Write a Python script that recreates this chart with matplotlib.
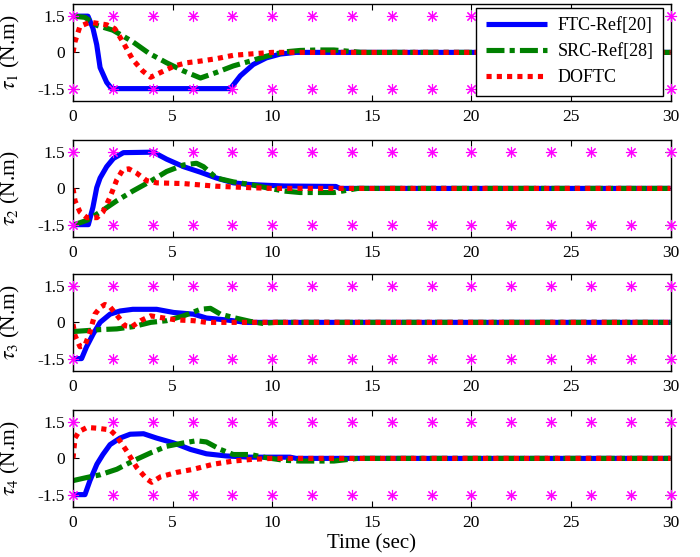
import matplotlib
matplotlib.use("Agg")
import matplotlib.pyplot as plt

plt.rcParams["font.family"] = ["Liberation Serif", "DejaVu Serif"]
plt.rcParams["mathtext.fontset"] = "stix"

# torque limits drawn as magenta asterisks
limit_t = [0, 2, 4, 6, 8, 10, 12, 14, 16, 18, 20, 22, 24, 26, 28, 30]
limit_hi = 1.5
limit_lo = -1.5

# tau1
ftc_t1 = [0, 0.75, 1.0, 1.19, 1.36, 1.69, 1.94, 7.9, 8.4, 9.05, 9.7, 10.4, 11.2, 30]
ftc_u1 = [1.5, 1.5, 1.0, 0.32, -0.63, -1.24, -1.5, -1.5, -0.97, -0.5, -0.23, -0.07, 0, 0]
src_t1 = [0, 0.6, 1.19, 2.0, 3.0, 3.8, 4.7, 5.55, 6.4, 7.2, 8.05, 8.9, 9.7, 10.6, 11.4, 12.3, 13.1, 14.5, 30]
src_u1 = [1.5, 1.45, 1.12, 0.92, 0.44, -0.03, -0.43, -0.77, -1.06, -0.83, -0.56, -0.36, -0.16, 0.02, 0.08, 0.1, 0.1, 0, 0]
dof_t1 = [0, 0.1, 0.35, 0.85, 1.7, 2.1, 2.5, 3.0, 3.5, 3.9, 4.4, 5.1, 5.7, 6.4, 7.2, 8.05, 9.0, 10.0, 30]
dof_u1 = [0, 0.44, 1.08, 1.25, 1.14, 0.98, 0.44, -0.3, -0.77, -1.03, -0.83, -0.56, -0.43, -0.36, -0.26, -0.12, -0.06, 0, 0]

# tau2
ftc_t2 = [0, 0.77, 1.0, 1.19, 1.36, 1.69, 2.03, 2.53, 4.04, 4.7, 5.55, 6.4, 7.2, 8.05, 8.9, 9.7, 10.6, 13.2, 13.4, 30]
ftc_u2 = [-1.5, -1.5, -0.78, 0.03, 0.43, 0.9, 1.24, 1.48, 1.5, 1.21, 0.9, 0.67, 0.43, 0.23, 0.16, 0.13, 0.1, 0.08, 0, 0]
src_t2 = [0, 0.7, 1.36, 2.2, 3.0, 3.9, 4.7, 5.55, 6.2, 6.55, 7.2, 8.05, 8.9, 9.7, 10.6, 11.4, 13.1, 14.3, 30]
src_u2 = [-1.52, -1.32, -0.98, -0.51, -0.11, 0.3, 0.7, 0.97, 1.04, 0.9, 0.43, 0.27, 0.16, 0.03, -0.11, -0.17, -0.17, 0, 0]
dof_t2 = [0, 0.1, 0.35, 0.7, 1.2, 1.5, 1.85, 2.2, 2.5, 2.8, 3.2, 3.7, 4.2, 5.55, 7.2, 8.9, 10.0, 30]
dof_u2 = [0, -0.51, -0.98, -1.21, -1.21, -0.98, -0.38, 0.36, 0.77, 0.81, 0.63, 0.32, 0.23, 0.2, 0.09, 0.03, 0, 0]

# tau3
ftc_t3 = [0, 0.43, 0.68, 1.02, 1.36, 1.86, 2.36, 3.0, 4.2, 5.05, 6.05, 6.7, 7.7, 8.7, 30]
ftc_u3 = [-1.5, -1.5, -1.01, -0.47, 0, 0.34, 0.47, 0.54, 0.54, 0.41, 0.34, 0.18, 0.1, 0, 0]
src_t3 = [0, 0.7, 1.36, 2.2, 3.0, 3.9, 4.7, 5.55, 6.4, 6.9, 7.4, 8.05, 8.9, 9.5, 10.2, 30]
src_u3 = [-0.38, -0.34, -0.3, -0.27, -0.18, 0, 0.07, 0.27, 0.54, 0.58, 0.34, 0.2, 0.04, -0.04, 0, 0]
dof_t3 = [0, 0.1, 0.35, 0.6, 0.85, 1.1, 1.36, 1.6, 1.86, 2.3, 2.6, 2.95, 3.4, 3.9, 4.4, 5.2, 6.05, 6.7, 30]
dof_u3 = [-0.07, -0.54, -1.01, -0.95, -0.4, 0.34, 0.61, 0.74, 0.64, 0.2, -0.14, -0.18, 0.07, 0.27, 0.2, 0.1, 0.07, 0, 0]

# tau4
ftc_t4 = [0, 0.6, 0.85, 1.2, 1.5, 1.86, 2.36, 2.87, 3.54, 4.2, 5.05, 5.9, 6.7, 7.7, 8.9, 10.9, 11.2, 30]
ftc_u4 = [-1.5, -1.5, -0.92, -0.24, 0.16, 0.57, 0.84, 1.0, 1.02, 0.84, 0.64, 0.37, 0.19, 0.1, 0.05, 0.05, 0, 0]
src_t4 = [0, 0.7, 1.36, 2.2, 3.0, 3.9, 4.7, 5.55, 6.2, 6.7, 7.4, 8.05, 8.9, 9.7, 10.6, 11.4, 13.1, 14.3, 30]
src_u4 = [-0.92, -0.79, -0.68, -0.45, -0.11, 0.23, 0.5, 0.64, 0.73, 0.68, 0.37, 0.16, 0.16, 0.03, -0.08, -0.11, -0.11, 0, 0]
dof_t4 = [0, 0.1, 0.3, 0.7, 1.2, 1.86, 2.2, 2.7, 3.2, 3.7, 3.95, 4.4, 5.2, 6.05, 7.05, 8.05, 9.0, 10.0, 30]
dof_u4 = [0, 0.84, 1.11, 1.28, 1.25, 1.18, 0.91, 0.3, -0.38, -0.85, -0.99, -0.76, -0.58, -0.45, -0.24, -0.11, -0.04, 0, 0]

ftc = [(ftc_t1, ftc_u1), (ftc_t2, ftc_u2), (ftc_t3, ftc_u3), (ftc_t4, ftc_u4)]
src = [(src_t1, src_u1), (src_t2, src_u2), (src_t3, src_u3), (src_t4, src_u4)]
dof = [(dof_t1, dof_u1), (dof_t2, dof_u2), (dof_t3, dof_u3), (dof_t4, dof_u4)]

fig = plt.figure(figsize=(7, 5.57), dpi=100)
bottoms = [0.8192, 0.575, 0.3345, 0.0903]
asterisk = (8, 2, 0)

for i in range(4):
    ax = fig.add_axes([0.1043, bottoms[i], 0.8536, 0.1735])
    ax.plot(ftc[i][0], ftc[i][1], color="#0000ff", lw=3.7, solid_capstyle="butt",
            label="FTC-Ref[20]")
    ax.plot(src[i][0], src[i][1], color="#008000", lw=3.7, dash_capstyle="butt",
            linestyle=(0, (3.5, 1.0, 1.0, 1.0)), label="SRC-Ref[28]")
    ax.plot(dof[i][0], dof[i][1], color="#ff0000", lw=3.7, dash_capstyle="butt",
            linestyle=(0, (1.0, 1.0)), label="DOFTC")
    ax.plot(limit_t, [limit_hi] * len(limit_t), linestyle="none", marker=asterisk,
            ms=8, mew=0.8, color="#ff00ff", clip_on=False, zorder=5)
    ax.plot(limit_t, [limit_lo] * len(limit_t), linestyle="none", marker=asterisk,
            ms=8, mew=0.8, color="#ff00ff", clip_on=False, zorder=5)

    ax.set_xlim(0, 30)
    ax.set_ylim(-2, 2)
    ax.set_xticks([0, 5, 10, 15, 20, 25, 30])
    ax.set_yticks([-1.5, 0, 1.5])
    ax.set_yticklabels(["-1.5", "0", "1.5"])
    ax.tick_params(direction="in", top=True, right=True, labelsize=12.5, length=4,
                   width=0.8, pad=6)
    for s in ax.spines.values():
        s.set_linewidth(1.0)
    ax.set_ylabel(r"$\tau_{%d}$ (N.m)" % (i + 1), fontsize=15.5)
    ax.yaxis.set_label_coords(-0.085, 0.5)

    if i == 0:
        leg = ax.legend(loc="upper right", bbox_to_anchor=(0.987, 0.955), fontsize=13,
                        fancybox=False, edgecolor="black", framealpha=1,
                        handlelength=3.4, handletextpad=0.6, labelspacing=0.5,
                        borderpad=0.5, borderaxespad=0)
        leg.get_frame().set_linewidth(1.0)
        leg.set_zorder(10)
    if i == 3:
        ax.set_xlabel("Time (sec)", fontsize=15, labelpad=2)

fig.savefig("out.png", dpi=100)
